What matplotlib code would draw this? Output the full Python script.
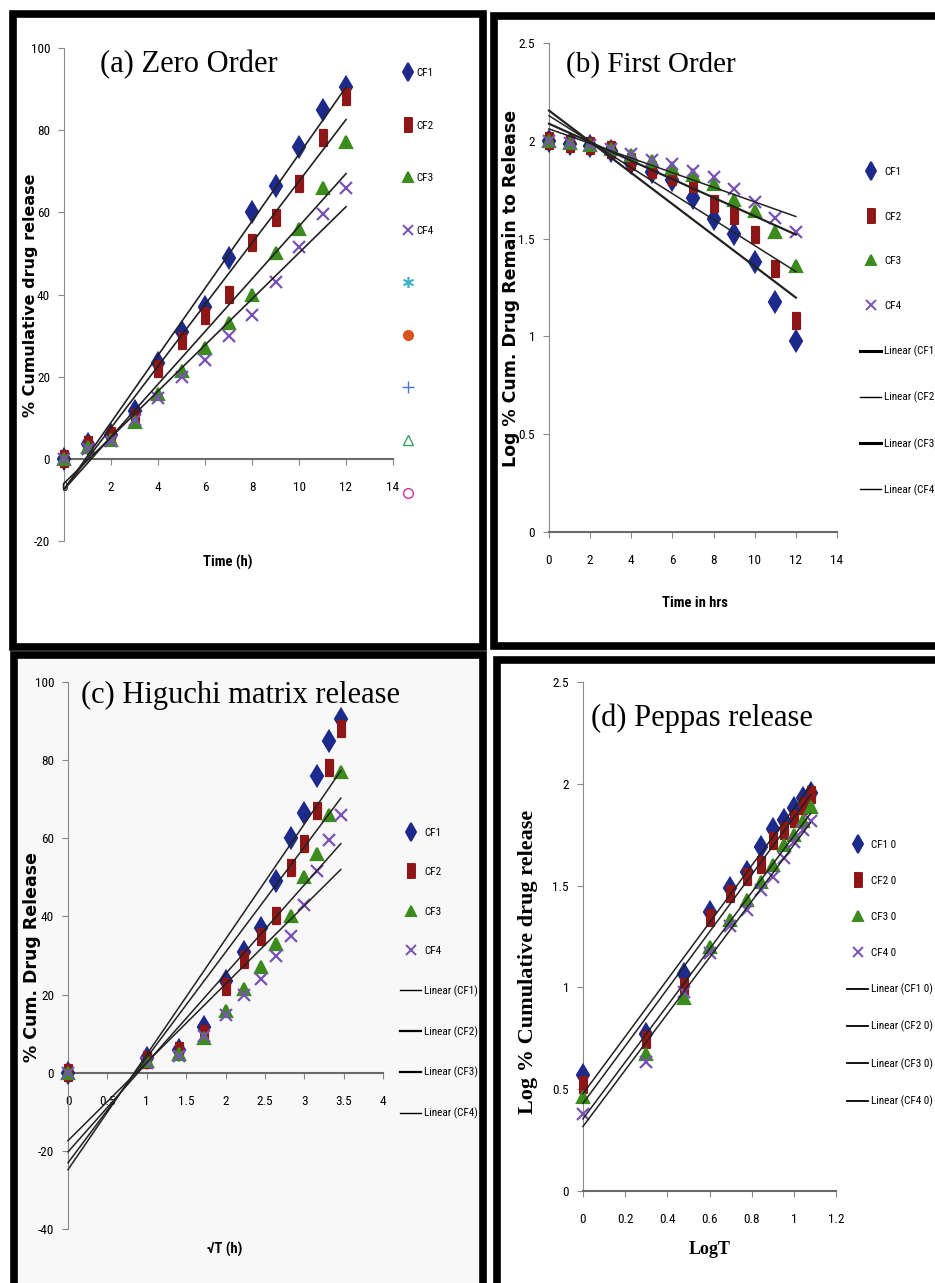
import numpy as np
import matplotlib.pyplot as plt
from matplotlib.patches import Rectangle
from matplotlib.lines import Line2D
from matplotlib.ticker import FuncFormatter

# cumulative drug release (%)
time_h = [0, 1, 2, 3, 4, 5, 6, 7, 8, 9, 10, 11, 12]
cf1 = [0, 3.7, 5.9, 11.7, 23.4, 30.9, 37, 49, 60, 66.5, 76, 85, 90.5]
cf2 = [0, 3.3, 5.5, 10, 21.9, 28.8, 34.7, 40, 52.5, 58.5, 67, 78, 88]
cf3 = [0, 2.9, 4.7, 8.9, 15.8, 21.4, 27, 33, 40, 50, 56, 66, 77]
cf4 = [0, 2.4, 4.3, 9.5, 14.8, 20, 24, 30, 35, 43, 51.5, 59.5, 66]
names = ['CF1', 'CF2', 'CF3', 'CF4']

W, H = 935, 1283
colors = ['#1c2a8c', '#8e1616', '#3b8c1c', '#7a52b3']
tall_sq = [(-0.55, -1), (0.55, -1), (0.55, 1), (-0.55, 1)]
markers = ['d', tall_sq, '^', 'x']
msizes = [10, 11, 8.5, 8]
narrow = ['Liberation Sans Narrow', 'Roboto Condensed', 'DejaVu Sans Condensed', 'Roboto']
serif = ['Liberation Serif', 'DejaVu Serif']

fig = plt.figure(figsize=(W / 100, H / 100), dpi=100)


def pax(l, t, r, b):
    a = fig.add_axes([l / W, 1 - b / H, (r - l) / W, (b - t) / H])
    a.set_zorder(2)
    return a


def frame(l, t, r, b, face='white'):
    fig.patches.append(Rectangle((l / W, 1 - b / H), (r - l) / W, (b - t) / H,
                                 transform=fig.transFigure, facecolor=face,
                                 edgecolor='black', lw=5.5, zorder=-5))


def style(ax, xt, yt, zero_axis=False):
    ax.set_facecolor('none')
    for s in ['top', 'right']:
        ax.spines[s].set_visible(False)
    ax.spines['left'].set_color('#8a8a8a')
    ax.spines['bottom'].set_color('#6a6a6a')
    ax.spines['bottom'].set_linewidth(1.5)
    if zero_axis:
        ax.spines['bottom'].set_position(('data', 0))
    ax.set_xticks(xt)
    ax.set_yticks(yt)
    ax.set_xlim(xt[0], xt[-1])
    ax.set_ylim(yt[0], yt[-1])
    fmt = FuncFormatter(lambda v, p: '%g' % v)
    ax.xaxis.set_major_formatter(fmt)
    ax.yaxis.set_major_formatter(fmt)
    ax.tick_params(length=4, color='#888888', labelsize=9.5, pad=6)
    for lab in ax.get_xticklabels() + ax.get_yticklabels():
        lab.set_family(narrow)
    ax.xaxis.set_tick_params(pad=12)


def scatter_fit(ax, x, ys, widths):
    for y, c, m, ms in zip(ys, colors, markers, msizes):
        ax.plot(x, y, ls='none', marker=m, ms=ms, color=c, mew=1.6, zorder=3, clip_on=False)
    for y, lw in zip(ys, widths):
        k, b = np.polyfit(x, y, 1)
        xx = np.array([x[0], x[-1]])
        ax.plot(xx, k * xx + b, color='#222222', lw=lw, zorder=4, clip_on=False)


def legend(ax, handles, labels, left, top, spacing, fs=8, hl=1.9):
    ax.legend(handles, labels, loc='upper left', bbox_to_anchor=(left / W, 1 - top / H),
              bbox_transform=fig.transFigure, frameon=False, borderpad=0, borderaxespad=0,
              handlelength=hl, handletextpad=0.25, labelspacing=spacing,
              prop={'family': narrow, 'size': fs})


def mk(i):
    return Line2D([], [], ls='none', marker=markers[i], ms=msizes[i] * 0.9, color=colors[i], mew=1.4)


frame(13, 14, 483, 647)
frame(494, 16, 945, 646)
frame(14, 655, 483, 1295, face='#f8f8f8')
frame(497, 660, 945, 1295)

t = np.array(time_h, float)
rel = [np.array(v, float) for v in (cf1, cf2, cf3, cf4)]

# (a) zero order
ax = pax(64, 48, 393, 541)
style(ax, np.arange(0, 15, 2), np.arange(-20, 101, 20), zero_axis=True)
scatter_fit(ax, t, rel, [1.2] * 4)
ax.text(0.11, 0.966, '(a) Zero Order', transform=ax.transAxes, family=serif, fontsize=22, va='center')
fig.text(30 / W, 1 - 295 / H, '% Cumulative drug release', rotation=90, ha='center', va='center',
         fontsize=11.5, fontweight='bold')
fig.text(228 / W, 1 - 562 / H, 'Time (h)', ha='center', va='center', fontsize=10.5,
         fontweight='bold', family=narrow)
extra = [Line2D([], [], ls='none', marker=(6, 2, 0), ms=8, color='#3fb3c8', mew=1.2),
         Line2D([], [], ls='none', marker='o', ms=7, color='#d9531e'),
         Line2D([], [], ls='none', marker='+', ms=9, color='#4a78d0', mew=1),
         Line2D([], [], ls='none', marker='^', ms=7, mfc='none', color='#3aa060', mew=1),
         Line2D([], [], ls='none', marker='o', ms=7, mfc='none', color='#c8349c', mew=1)]
legend(ax, [mk(i) for i in range(4)] + extra, names + [''] * 5, 402, 68, 3.83, hl=1.0)

# (b) first order
ax = pax(549, 43, 837, 532)
style(ax, np.arange(0, 15, 2), np.arange(0, 2.51, 0.5))
remain = [np.log10(100 - r) for r in rel]
scatter_fit(ax, t, remain, [1.6, 1.1, 1.6, 1.1])
ax.text(0.06, 0.955, '(b) First Order', transform=ax.transAxes, family=serif, fontsize=21, va='center')
fig.text(511 / W, 1 - 288 / H, 'Log % Cum. Drug Remain to Release', rotation=90, ha='center',
         va='center', fontsize=12.5, fontweight='bold')
fig.text(695 / W, 1 - 603 / H, 'Time in hrs', ha='center', va='center', fontsize=10.5,
         fontweight='bold', family=narrow)
lines = [Line2D([], [], color='black', lw=w) for w in (2.2, 1.0, 2.2, 1.0)]
legend(ax, [mk(i) for i in range(4)] + lines, names + ['Linear (%s)' % n for n in names],
       860, 167, 3.12)

# (c) Higuchi
ax = pax(68, 682, 383, 1229)
style(ax, np.arange(0, 4.01, 0.5), np.arange(-40, 101, 20), zero_axis=True)
sq = np.sqrt(t)
scatter_fit(ax, sq, rel, [1.1] * 4)
ax.text(0.04, 0.975, '(c) Higuchi matrix release', transform=ax.transAxes, family=serif,
        fontsize=22, va='center')
fig.text(32 / W, 1 - 957 / H, '% Cum. Drug Release', rotation=90, ha='center', va='center',
         fontsize=12.5, fontweight='bold')
fig.text(225 / W, 1 - 1249 / H, '\u221aT (h)', ha='center', va='center', fontsize=10.5,
         fontweight='bold', family=narrow)
lines = [Line2D([], [], color='black', lw=w) for w in (1.0, 1.6, 1.6, 1.0)]
legend(ax, [mk(i) for i in range(4)] + lines, names + ['Linear (%s)' % n for n in names],
       400, 828, 2.64)

# (d) Peppas
ax = pax(583, 682, 836, 1191)
style(ax, np.arange(0, 1.21, 0.2), np.arange(0, 2.51, 0.5))
lt = np.log10(t[1:])
lr = [np.log10(r[1:]) for r in rel]
scatter_fit(ax, lt, lr, [1.1] * 4)
ax.text(0.03, 0.929, '(d) Peppas release', transform=ax.transAxes, family=serif, fontsize=22,
        va='center')
fig.text(528 / W, 1 - 962 / H, 'Log % Cumulative drug release', rotation=90, ha='center',
         va='center', fontsize=16, fontweight='bold', family=serif)
fig.text(710 / W, 1 - 1250 / H, 'LogT', ha='center', va='center', fontsize=13,
         fontweight='bold', family=serif)
lines = [Line2D([], [], color='black', lw=1.3) for _ in range(4)]
legend(ax, [mk(i) for i in range(4)] + lines, [n + ' 0' for n in names] +
       ['Linear (%s 0)' % n for n in names], 847, 840, 2.33)

fig.savefig('out.png', dpi=100)
